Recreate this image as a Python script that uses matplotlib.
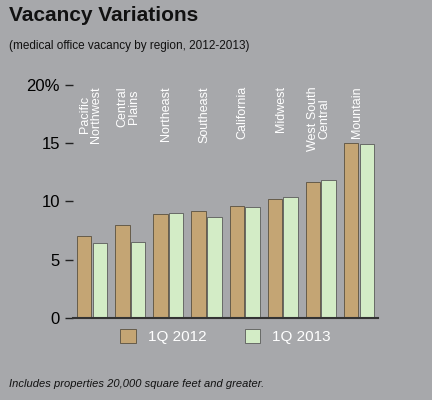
import numpy as np
import matplotlib.pyplot as plt

plt.rcParams["font.family"] = ["Liberation Sans", "DejaVu Sans"]

regions = ["Pacific\nNorthwest", "Central\nPlains", "Northeast", "Southeast",
           "California", "Midwest", "West South\nCentral", "Mountain"]
q1_2012 = [7.0, 8.0, 8.9, 9.2, 9.6, 10.2, 11.7, 15.0]
q1_2013 = [6.4, 6.5, 9.0, 8.7, 9.5, 10.4, 11.8, 14.9]

bg = "#a7a8ab"
fig = plt.figure(figsize=(4.32, 4.0), dpi=100, facecolor=bg)
ax = fig.add_axes([0.169, 0.205, 0.706, 0.583], facecolor=bg)

x = np.arange(len(regions))
w = 0.38
ax.bar(x - w / 2 - 0.015, q1_2012, w, color="#c4a574", edgecolor="#5a5040", linewidth=0.6, label="1Q 2012")
ax.bar(x + w / 2 + 0.015, q1_2013, w, color="#d3ecc6", edgecolor="#5a5a5a", linewidth=0.6, label="1Q 2013")

for i, name in enumerate(regions):
    ax.text(i - 0.05, 19.9, name, rotation=90, ha="center", va="top", color="white",
            fontsize=9, linespacing=0.9)

ax.set_xlim(-0.5, len(regions) - 0.5)
ax.set_ylim(0, 20)
ax.set_yticks([0, 5, 10, 15, 20])
ax.set_yticklabels(["0", "5", "10", "15", "20%"], fontsize=12)
ax.tick_params(axis="y", length=6, width=1, color="#222222", direction="out")
ax.set_xticks([])
for s in ["top", "right", "left"]:
    ax.spines[s].set_visible(False)
ax.spines["bottom"].set_color("#333333")
ax.spines["bottom"].set_linewidth(1.5)

ax.legend(loc="upper center", bbox_to_anchor=(0.5, 0.01), ncol=2, frameon=False,
          fontsize=11, handlelength=1.0, handleheight=1.0, columnspacing=2.5,
          labelcolor="white")

fig.text(0.02, 0.985, "Vacancy Variations", fontsize=15, fontweight="bold",
         color="#111111", va="top")
fig.text(0.02, 0.9, "(medical office vacancy by region, 2012-2013)", fontsize=8.5,
         color="#111111", va="top")
fig.text(0.02, 0.04, "Includes properties 20,000 square feet and greater.", fontsize=8,
         style="italic", color="#111111", va="center")

fig.savefig("out.png", dpi=100, facecolor=bg)
